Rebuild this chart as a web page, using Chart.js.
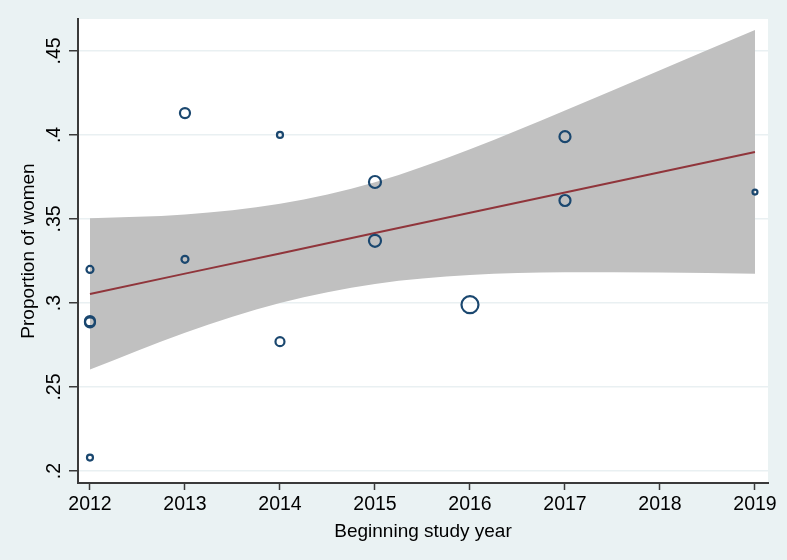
<!DOCTYPE html>
<html>
<head>
<meta charset="utf-8">
<script src="https://cdn.jsdelivr.net/npm/chart.js@4/dist/chart.umd.min.js"></script>
<style>
  html, body { margin: 0; background: #eaf2f3; }
  #wrap { width: 787px; height: 560px; }
</style>
</head>
<body>
<div id="wrap"><canvas id="chart" width="787" height="560"></canvas></div>
<script>
///// data /////
const studyYear = [2012, 2012, 2012, 2012, 2013, 2013, 2014, 2014, 2015, 2015, 2016, 2017, 2017, 2019];
const womenShare = [0.320, 0.2892, 0.2885, 0.208, 0.413, 0.326, 0.400, 0.277, 0.372, 0.337, 0.299, 0.399, 0.361, 0.366];
const studyWeight = [3.4, 7, 7, 2.5, 7, 3.4, 2.5, 5.6, 10, 10, 20, 8.4, 8.4, 1.7];

const fitYears = [2012, 2013, 2014, 2015, 2016, 2017, 2018, 2019];
const fitValue = [0.3054, 0.3175, 0.3295, 0.3416, 0.3537, 0.3658, 0.3778, 0.3899];
const ciUpper = [0.3504, 0.3527, 0.3590, 0.3719, 0.3915, 0.4145, 0.4385, 0.4624];
const ciLower = [0.2604, 0.2823, 0.3000, 0.3113, 0.3166, 0.3183, 0.3182, 0.3174];

const xTicks = [2012, 2013, 2014, 2015, 2016, 2017, 2018, 2019];
const yTicks = [0.2, 0.25, 0.3, 0.35, 0.4, 0.45];

const pts = (xs, ys) => xs.map((x, i) => ({ x: x, y: ys[i] }));
const family = "'Liberation Sans', Arial, sans-serif";
const tickFont = { family: family, size: 19.5 };
const titleFont = { family: family, size: 19 };
const axisCol = '#3a3a3a';

// white plot region on the grey-blue page
const plotBg = {
  id: 'plotBg',
  beforeDraw(chart) {
    const { ctx, chartArea: a } = chart;
    ctx.save();
    ctx.fillStyle = '#eaf2f3';
    ctx.fillRect(0, 0, chart.width, chart.height);
    ctx.fillStyle = '#ffffff';
    ctx.fillRect(a.left, a.top, a.right - a.left, a.bottom - a.top);
    ctx.restore();
  }
};

new Chart(document.getElementById('chart'), {
  type: 'scatter',
  data: {
    datasets: [
      {
        type: 'line', data: pts(fitYears, ciUpper), order: 3,
        borderWidth: 0, pointRadius: 0, fill: '+1',
        backgroundColor: '#c0c0c0', cubicInterpolationMode: 'monotone'
      },
      {
        type: 'line', data: pts(fitYears, ciLower), order: 4,
        borderWidth: 0, pointRadius: 0, fill: false,
        cubicInterpolationMode: 'monotone'
      },
      {
        type: 'line', data: pts(fitYears, fitValue), order: 1,
        borderColor: '#90353b', borderWidth: 2, pointRadius: 0, fill: false
      },
      {
        data: pts(studyYear, womenShare), order: 0,
        pointRadius: studyWeight.map(w => 1.9 * Math.sqrt(w)),
        pointBorderWidth: 2.2, pointBorderColor: '#1a476f',
        pointBackgroundColor: 'rgba(0,0,0,0)'
      }
    ]
  },
  options: {
    responsive: false,
    animation: false,
    layout: { padding: { top: 19, right: 19, left: 0, bottom: 0 } },
    plugins: { legend: { display: false }, tooltip: { enabled: false } },
    scales: {
      x: {
        type: 'linear', min: 2011.874, max: 2019.137,
        afterBuildTicks: s => { s.ticks = xTicks.map(v => ({ value: v })); },
        afterFit: s => { s.height = 77; },
        border: { color: axisCol, width: 2 },
        grid: { drawOnChartArea: false, tickLength: 7, tickColor: axisCol, tickWidth: 1.5 },
        ticks: { color: '#000', font: tickFont, padding: 3, maxRotation: 0, callback: v => String(v) },
        title: { display: true, text: 'Beginning study year', color: '#000', font: titleFont, padding: { top: 0, bottom: 17 } }
      },
      y: {
        min: 0.1929, max: 0.469,
        afterBuildTicks: s => { s.ticks = yTicks.map(v => ({ value: v })); },
        afterFit: s => { s.width = 78; },
        border: { color: axisCol, width: 2 },
        grid: { color: '#e9f0f2', lineWidth: 1.5, tickLength: 9, tickColor: axisCol, tickWidth: 1.5 },
        ticks: {
          color: '#000', font: tickFont, padding: 1, minRotation: 90, maxRotation: 90, crossAlign: 'center',
          callback: v => String(v).replace(/^0/, '')
        },
        title: { display: true, text: 'Proportion of women', color: '#000', font: titleFont, padding: { top: 17, bottom: 0 } }
      }
    }
  },
  plugins: [plotBg]
});
</script>
</body>
</html>
